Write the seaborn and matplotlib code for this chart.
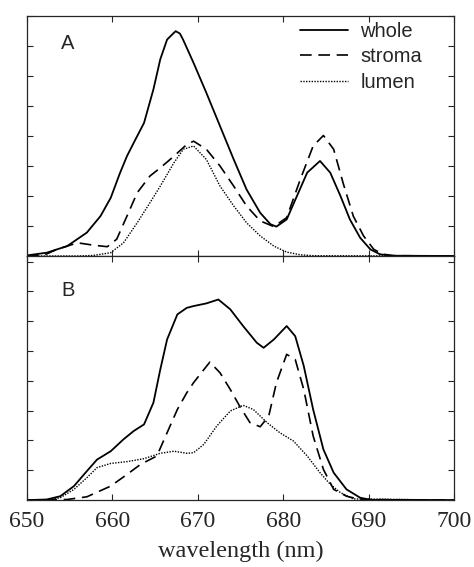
import numpy as np
import pandas as pd
import matplotlib.pyplot as plt
import seaborn as sns

# Panel A (y in tick units)
a_whole_x = [650, 652.3, 654.7, 657.0, 658.6, 659.8, 660.9, 661.7, 662.5, 663.7, 664.8, 665.6, 666.4, 667.4, 667.9,
             668.3, 669.5, 671.0, 672.6, 674.2, 675.7, 677.3, 678.5, 679.2, 680.4, 681.6, 682.8, 684.3, 685.5,
             686.7, 687.8, 689.0, 690.2, 691.3, 692.5, 700]
a_whole_y = [0.02, 0.11, 0.33, 0.78, 1.33, 1.94, 2.78, 3.33, 3.78, 4.44, 5.56, 6.56, 7.22, 7.5, 7.42,
             7.2, 6.44, 5.44, 4.33, 3.22, 2.22, 1.44, 1.06, 0.98, 1.22, 2.0, 2.78, 3.17, 2.78,
             2.0, 1.22, 0.61, 0.22, 0.06, 0.01, 0]

a_stroma_x = [650, 652, 653.5, 655.9, 657.8, 659.4, 660.5, 661.7, 662.9, 664.4, 665.6, 667.2, 668.7, 669.5,
              671.0, 672.6, 674.2, 675.7, 677.3, 678.9, 680.4, 682.0, 683.5, 684.7, 685.9, 687.0, 688.2,
              689.4, 690.6, 691.7, 693, 700]
a_stroma_y = [0, 0.03, 0.22, 0.44, 0.36, 0.31, 0.56, 1.33, 2.11, 2.67, 2.94, 3.33, 3.72, 3.83,
              3.56, 3.0, 2.33, 1.67, 1.17, 0.98, 1.28, 2.56, 3.67, 4.02, 3.56, 2.44, 1.33,
              0.67, 0.22, 0.06, 0.01, 0]

a_lumen_x = [650, 656, 657.8, 659.8, 661.3, 662.9, 664.4, 665.6, 667.2, 668.3, 669.5, 671.0, 672.6, 674.2,
             675.7, 677.3, 678.9, 680.4, 682.0, 683.5, 700]
a_lumen_y = [0, 0.0, 0.02, 0.11, 0.44, 1.11, 1.78, 2.33, 3.11, 3.56, 3.67, 3.22, 2.33, 1.67,
             1.11, 0.67, 0.33, 0.13, 0.04, 0.01, 0]

# Panel B
b_whole_x = [650, 652.3, 653.9, 655.5, 657.0, 658.2, 659.8, 661.3, 662.5, 663.7, 664.8, 665.6, 666.4, 667.6,
             668.7, 669.5, 671.0, 672.4, 673.8, 675.3, 676.9, 677.7, 678.9, 680.4, 681.4, 682.4, 683.5,
             684.7, 685.9, 687.4, 689.0, 690.2, 700]
b_whole_y = [0, 0.02, 0.13, 0.47, 0.97, 1.36, 1.64, 2.04, 2.32, 2.54, 3.27, 4.38, 5.39, 6.23,
             6.45, 6.51, 6.6, 6.73, 6.4, 5.84, 5.28, 5.11, 5.39, 5.84, 5.5, 4.5, 3.04,
             1.7, 0.92, 0.36, 0.08, 0.01, 0]

b_stroma_x = [650, 654.7, 657.0, 659.8, 661.7, 663.3, 665.2, 666.4, 667.6, 668.7, 669.5, 671.4, 672.6,
              673.8, 674.9, 676.1, 677.3, 678.3, 679.2, 680.4, 681.4, 682.4, 683.5, 684.7, 685.9, 687.4,
              689.0, 700]
b_stroma_y = [0, 0.02, 0.11, 0.47, 0.86, 1.2, 1.48, 2.26, 3.04, 3.6, 3.94, 4.63, 4.27,
              3.71, 3.15, 2.6, 2.46, 2.82, 3.94, 4.89, 4.72, 3.71, 2.15, 1.03, 0.36, 0.13,
              0.02, 0]

b_lumen_x = [650, 652.5, 653.9, 655.5, 657.0, 658.2, 659.8, 661.7, 663.7, 665.6, 667.2, 668.7, 669.5,
             670.7, 672.2, 673.8, 675.3, 676.5, 678.1, 679.6, 681.2, 682.8, 684.3, 685.5, 686.7, 688.2,
             700]
b_lumen_y = [0, 0.01, 0.08, 0.36, 0.75, 1.09, 1.23, 1.29, 1.39, 1.57, 1.64, 1.57, 1.59,
             1.87, 2.48, 2.99, 3.18, 3.04, 2.6, 2.26, 1.98, 1.48, 0.92, 0.53, 0.25, 0.04,
             0]

x_ticks = [650, 660, 670, 680, 690, 700]
series_names = ['whole', 'stroma', 'lumen']

sns.set_style('ticks')
plt.rcParams['font.family'] = ['Liberation Serif', 'DejaVu Serif']
plt.rcParams['xtick.direction'] = 'in'
plt.rcParams['ytick.direction'] = 'in'

fig = plt.figure(figsize=(4.74, 5.67), dpi=100)
ax_a = fig.add_axes([0.057, 0.5485, 0.901, 0.423])
ax_b = fig.add_axes([0.057, 0.118, 0.901, 0.4305])

styles = {'whole': dict(linestyle='-', linewidth=1.3),
          'stroma': dict(linestyle=(0, (7, 4)), linewidth=1.2),
          'lumen': dict(linestyle=(0, (1, 1)), linewidth=1.0)}

panel_a = {'whole': (a_whole_x, a_whole_y), 'stroma': (a_stroma_x, a_stroma_y),
           'lumen': (a_lumen_x, a_lumen_y)}
panel_b = {'whole': (b_whole_x, b_whole_y), 'stroma': (b_stroma_x, b_stroma_y),
           'lumen': (b_lumen_x, b_lumen_y)}

for ax, panel, top, letter, ly in [(ax_a, panel_a, 8, 'A', 0.925), (ax_b, panel_b, 8.19, 'B', 0.898)]:
    for name in series_names:
        xs, ys = panel[name]
        sns.lineplot(x=xs, y=ys, ax=ax, color='black', label=name,
                     legend=False, **styles[name])
    ax.set_xlim(650, 700)
    ax.set_ylim(0, top)
    ax.set_xticks(x_ticks)
    ax.set_yticks(np.arange(0, 9))
    ax.set_yticklabels([])
    ax.tick_params(top=True, right=True, length=4, width=0.8)
    for s in ax.spines.values():
        s.set_linewidth(0.9)
    ax.text(0.08, ly, letter, transform=ax.transAxes,
            fontsize=14.5, family=['Liberation Sans'], va='top')

ax_a.set_xticklabels([])
ax_b.set_xticklabels([str(t) for t in x_ticks], fontsize=17)
ax_b.tick_params(axis='x', pad=8)
ax_b.set_xlabel('wavelength (nm)', fontsize=17.5, labelpad=6)

leg = ax_a.legend(loc='upper left', bbox_to_anchor=(300 / 474, 1 - 22 / 567),
                  bbox_transform=fig.transFigure, frameon=False, handlelength=2.4,
                  handletextpad=0.6, labelspacing=0.32, borderaxespad=0, borderpad=0,
                  prop={'family': 'Liberation Sans', 'size': 14.5})

fig.savefig('out.png', dpi=100)
